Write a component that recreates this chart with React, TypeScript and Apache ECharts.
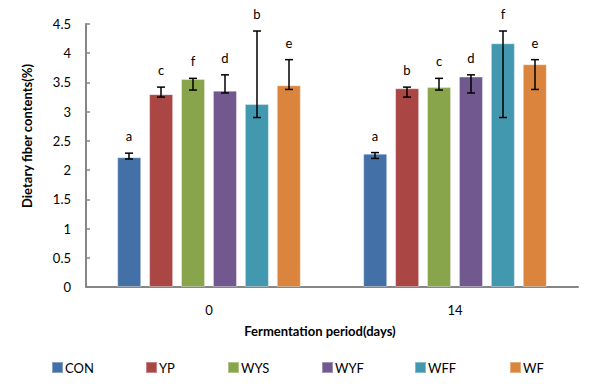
import React, { useEffect, useRef } from "react";
import * as echarts from "echarts";

const categories = ["0", "14"];
const seriesNames = ["CON", "YP", "WYS", "WYF", "WFF", "WF"];
const colors = ["#4470A8", "#AA4644", "#89A54B", "#71588F", "#4198AF", "#DB843D"];

const conValues = [2.22, 2.28];
const ypValues = [3.3, 3.4];
const wysValues = [3.56, 3.42];
const wyfValues = [3.36, 3.6];
const wffValues = [3.13, 4.17];
const wfValues = [3.45, 3.81];
const values = [conValues, ypValues, wysValues, wyfValues, wffValues, wfValues];

const conUpper = [2.29, 2.3];
const ypUpper = [3.42, 3.42];
const wysUpper = [3.57, 3.57];
const wyfUpper = [3.63, 3.63];
const wffUpper = [4.38, 4.38];
const wfUpper = [3.89, 3.89];
const uppers = [conUpper, ypUpper, wysUpper, wyfUpper, wffUpper, wfUpper];

const conLower = [2.19, 2.2];
const ypLower = [3.25, 3.25];
const wysLower = [3.37, 3.37];
const wyfLower = [3.32, 3.32];
const wffLower = [2.9, 2.9];
const wfLower = [3.38, 3.38];
const lowers = [conLower, ypLower, wysLower, wyfLower, wffLower, wfLower];

const day0Letters = ["a", "c", "f", "d", "b", "e"];
const day14Letters = ["a", "b", "c", "d", "f", "e"];
const letters = [day0Letters, day14Letters];

const yTicks = ["0", "0.5", "1", "1.5", "2", "2.5", "3", "3.5", "4", "4.5"];

const FONT = "Lato, 'Open Sans', sans-serif";
const BAR_W = 24;
const BAR_STEP = 32;
const legendLefts = [51, 145, 227, 321, 414, 509];

export default function App() {
  const ref = useRef<HTMLDivElement>(null);
  useEffect(() => {
    if (!ref.current) return;
    const chart = echarts.init(ref.current, undefined, { renderer: "svg" });

    const errData: any[] = [];
    for (let s = 0; s < seriesNames.length; s++) {
      for (let c = 0; c < categories.length; c++) {
        errData.push([c, s, lowers[s][c], uppers[s][c], letters[c][s]]);
      }
    }

    const barSeries = seriesNames.map((name, i) => ({
      name,
      type: "bar",
      barWidth: BAR_W,
      barGap: "33%",
      data: values[i],
      itemStyle: { color: colors[i], borderColor: "rgba(255,255,255,0.35)", borderWidth: 1 },
    }));

    const option: any = {
      animation: false,
      textStyle: { fontFamily: FONT },
      grid: { left: 86, right: 30, top: 24, bottom: 97 },
      xAxis: {
        type: "category",
        data: categories,
        axisLine: { lineStyle: { color: "#868686", width: 2 } },
        axisTick: { inside: true, length: 4, lineStyle: { color: "#868686", width: 1.5 } },
        axisLabel: { color: "#000", fontSize: 13, margin: 16, fontFamily: FONT },
        splitLine: { show: false },
      },
      yAxis: {
        type: "value",
        min: 0,
        max: 4.5,
        interval: 0.5,
        axisLine: { show: true, lineStyle: { color: "#868686", width: 2 } },
        axisTick: { show: true, inside: true, length: 4, lineStyle: { color: "#868686", width: 1.5 } },
        axisLabel: {
          color: "#000",
          fontSize: 13,
          margin: 15,
          fontFamily: FONT,
          formatter: (v: number) => yTicks[Math.round(v / 0.5)] ?? String(v),
        },
        splitLine: { show: false },
      },
      legend: seriesNames.map((name, i) => ({
        data: [name],
        left: legendLefts[i],
        top: 361,
        padding: 0,
        itemWidth: 11,
        itemHeight: 11,
        icon: "rect",
        selectedMode: false,
        textStyle: { fontSize: 13, color: "#000", fontFamily: FONT, padding: [0, 0, 0, -3] },
      })),
      series: [
        ...barSeries,
        {
          type: "custom",
          name: "err",
          data: errData,
          encode: { x: 0, y: [2, 3] },
          z: 10,
          renderItem: (_params: any, api: any) => {
            const c = api.value(0);
            const s = api.value(1);
            const lo = api.coord([c, api.value(2)]);
            const hi = api.coord([c, api.value(3)]);
            const x = lo[0] + (s - (seriesNames.length - 1) / 2) * BAR_STEP;
            const cap = 4;
            const st = { stroke: "#000", lineWidth: 1.5 };
            return {
              type: "group",
              children: [
                { type: "line", shape: { x1: x, y1: hi[1], x2: x, y2: lo[1] }, style: st },
                { type: "line", shape: { x1: x - cap, y1: hi[1], x2: x + cap, y2: hi[1] }, style: st },
                { type: "line", shape: { x1: x - cap, y1: lo[1], x2: x + cap, y2: lo[1] }, style: st },
                {
                  type: "text",
                  x,
                  y: hi[1] - 17,
                  style: {
                    text: String(letters[c][s]),
                    fill: "#000",
                    font: `13px ${FONT}`,
                    align: "center",
                    verticalAlign: "middle",
                  },
                },
              ],
            };
          },
        },
      ],
      graphic: [
        {
          type: "text",
          x: 27,
          y: 136,
          rotation: Math.PI / 2,
          style: {
            text: "Dietary fiber contents(%)",
            fill: "#000",
            font: `bold 13px ${FONT}`,
            align: "center",
            verticalAlign: "middle",
          },
        },
        {
          type: "text",
          x: 320,
          y: 331,
          style: {
            text: "Fermentation period(days)",
            fill: "#000",
            font: `bold 13px ${FONT}`,
            align: "center",
            verticalAlign: "middle",
          },
        },
      ],
    };
    chart.setOption(option);
    return () => chart.dispose();
  }, []);
  return (
    <div
      ref={ref}
      style={{ position: "fixed", left: 0, top: 0, width: 608, height: 384, background: "#fff" }}
    />
  );
}
